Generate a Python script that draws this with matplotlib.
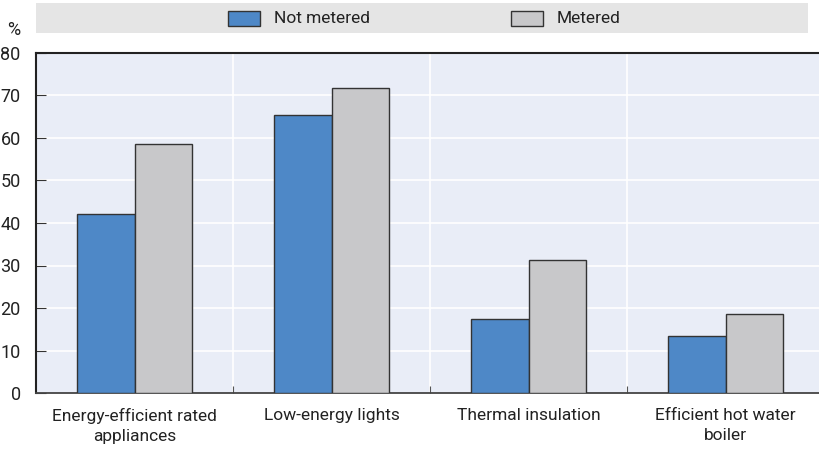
import matplotlib.pyplot as plt
import matplotlib.patches as mpatches
import numpy as np

plt.rcParams['font.family'] = ['Roboto', 'DejaVu Sans']

categories = ["Energy-efficient rated\nappliances", "Low-energy lights",
              "Thermal insulation", "Efficient hot water\nboiler"]
not_metered = [42.0, 65.4, 17.4, 13.4]
metered = [58.6, 71.8, 31.3, 18.6]
series_names = ["Not metered", "Metered"]

blue = "#4e88c7"
grey = "#c8c8ca"
text_col = "#222222"

fig = plt.figure(figsize=(8.19, 4.51), dpi=100)
W, H = 819, 451
ax = fig.add_axes([36 / W, (H - 393) / H, (824 - 36) / W, (393 - 53) / H])
ax.set_facecolor("#e9edf7")

x = np.arange(len(categories))
w = 0.29
ax.bar(x - w / 2, not_metered, w, color=blue, edgecolor="#333333", linewidth=1.0, zorder=3)
ax.bar(x + w / 2, metered, w, color=grey, edgecolor="#333333", linewidth=1.0, zorder=3)

ax.set_xlim(-0.5, 3.5)
ax.set_ylim(0, 80)
ax.set_yticks(range(0, 81, 10))
ax.set_yticklabels([str(v) for v in range(0, 81, 10)], fontsize=13, color=text_col)

# white grid: horizontal at ticks, vertical between categories
for v in range(10, 80, 10):
    ax.axhline(v, color="white", linewidth=1.2, zorder=1)
for b in [0.5, 1.5, 2.5]:
    ax.axvline(b, color="white", linewidth=1.2, zorder=1)

ax.set_xticks([0.5, 1.5, 2.5], minor=False)
ax.set_xticklabels([])
ax.tick_params(axis="x", direction="in", length=5, color="#555555", width=0.8)
ax.tick_params(axis="y", direction="in", length=7, color="#333333", width=0.8, pad=11)
for i, c in enumerate(categories):
    ax.text(i, -3.6, c, ha="center", va="top", fontsize=12.5, color=text_col,
            linespacing=1.4)

ax.spines["right"].set_visible(False)
ax.spines["left"].set_linewidth(1.5)
ax.spines["top"].set_linewidth(1.5)
ax.spines["left"].set_color("#222222")
ax.spines["top"].set_color("#222222")
ax.spines["bottom"].set_color("#444444")
ax.spines["bottom"].set_linewidth(1.3)

fig.text(7 / W, 1 - 30 / H, "%", fontsize=13, color=text_col, ha="left", va="center")

# legend band
fig.patches.append(mpatches.Rectangle((36 / W, 1 - 33 / H), (808 - 36) / W, 30 / H,
                                      transform=fig.transFigure, facecolor="#e5e5e5",
                                      edgecolor="none", zorder=0))
for x0, col, name in [(228, blue, series_names[0]), (511, grey, series_names[1])]:
    fig.patches.append(mpatches.Rectangle((x0 / W, 1 - 26 / H), 32 / W, 15 / H,
                                          transform=fig.transFigure, facecolor=col,
                                          edgecolor="#333333", linewidth=1.0))
    fig.text((x0 + 46) / W, 1 - 18.5 / H, name, fontsize=12.5, color=text_col,
             ha="left", va="center")

fig.savefig("out.png", dpi=100)
